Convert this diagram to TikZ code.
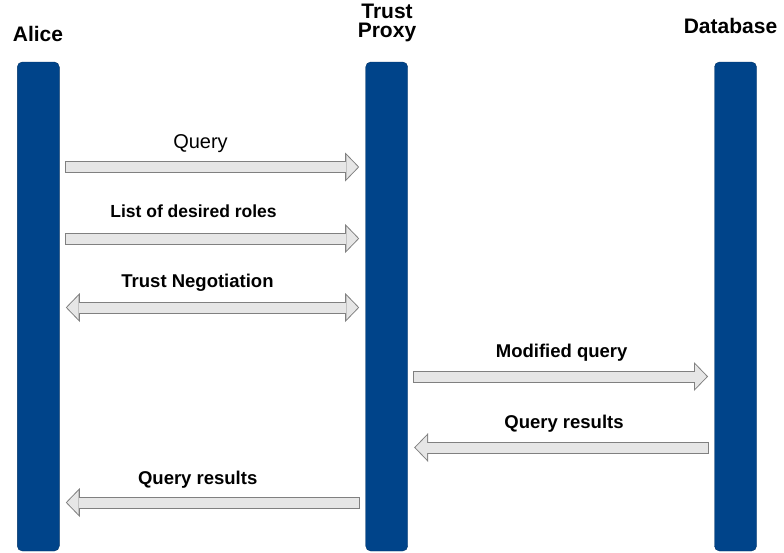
\documentclass[tikz,border=0pt]{standalone}
\usepackage{fontspec}
\setmainfont{Liberation Sans}
\usetikzlibrary{arrows.meta}
\definecolor{barblue}{HTML}{00448A}
\definecolor{arrowfill}{HTML}{E6E6E6}
\definecolor{arrowline}{HTML}{808080}
\tikzset{
  lifeline/.style={rectangle, draw=barblue!75!black, fill=barblue, rounded corners=5pt,
    minimum width=42pt, minimum height=489pt, inner sep=0pt, outer sep=6.5pt},
  actor/.style={font=\bfseries\fontsize{21}{18.5}\selectfont, align=center, anchor=base},
  msg/.style={font=\bfseries\fontsize{18.5}{22}\selectfont, anchor=base},
  outertip/.tip={Triangle[length=14pt, width=29pt, line width=0pt]},
  innertip/.tip={Triangle[length=11.6pt, width=24pt, sep=1.3pt, line width=0pt]},
  blockarrow/.style={draw=arrowfill, line width=10pt, -innertip,
    preaction={draw=arrowline, line width=12pt, shorten <=-1pt, -outertip}},
  twoway/.style={draw=arrowfill, line width=10pt, innertip-innertip,
    preaction={draw=arrowline, line width=12pt, outertip-outertip}},
}
\begin{document}
\begin{tikzpicture}[x=1pt, y=-1pt]
\useasboundingbox (0,0) rectangle (784,552);
% lifelines
\node [lifeline] (alice) at (38.3,306.5) {};
\node [lifeline] (proxy) at (386.7,306.5) {};
\node [lifeline] (db) at (735.5,306.5) {};
\node [actor] (alicename) at (38,41) {Alice};
\node [actor] (proxyname) at (387,37.3) {Trust\\Proxy};
\node [actor] (dbname) at (730.5,33.3) {Database};
% message rows
\coordinate (m1) at (0,167);
\coordinate (m2) at (0,238.5);
\coordinate (m3) at (0,307.5);
\coordinate (m4) at (0,376.5);
\coordinate (m5) at (0,447.5);
\coordinate (m6) at (0,502.5);
\draw [blockarrow] (alice.east |- m1) -- (proxy.west |- m1);
\draw [blockarrow] (alice.east |- m2) -- (proxy.west |- m2);
\draw [twoway] (alice.east |- m3) -- (proxy.west |- m3);
\draw [blockarrow] (proxy.east |- m4) -- (db.west |- m4);
\draw [blockarrow] (db.west |- m5) -- (proxy.east |- m5);
\draw [blockarrow] (proxy.west |- m6) -- (alice.east |- m6);
% labels
\node [anchor=base, font=\fontsize{20}{24}\selectfont] (querytxt) at (200.5,148) {Query};
\node [msg, font=\bfseries\fontsize{17.5}{21}\selectfont] (rolestxt) at (193.5,217) {List of desired roles};
\node [msg] (negtxt) at (197.5,287) {Trust Negotiation};
\node [msg] (modtxt) at (561.7,357) {Modified query};
\node [msg] (dbrestxt) at (564,428) {Query results};
\node [msg] (restxt) at (197.7,484) {Query results};
\end{tikzpicture}
\end{document}
